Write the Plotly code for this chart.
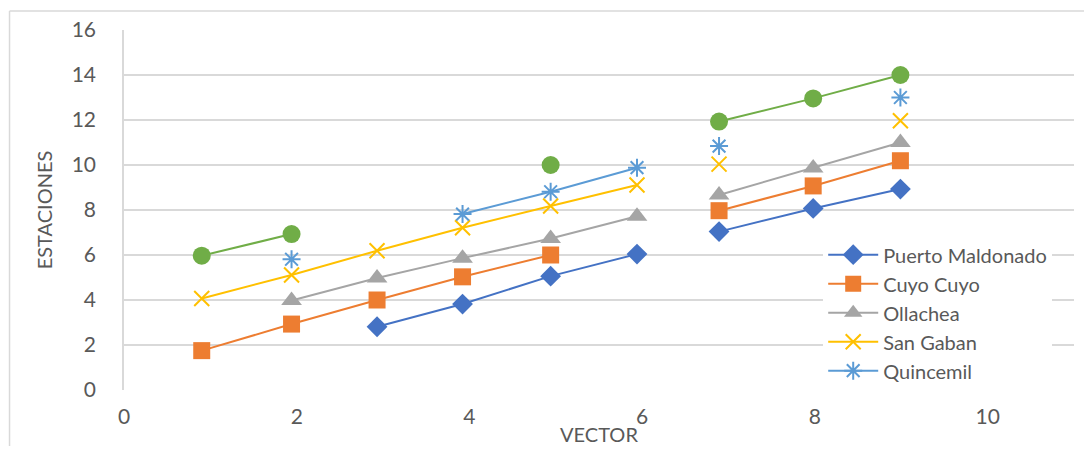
import plotly.graph_objects as go

# Shared x positions (None marks the blank row that breaks every line)
x_vals = [0.90, 1.94, 2.93, 3.92, 4.94, 5.94, None, 6.89, 7.98, 8.99]

puerto_maldonado = [None, None, 2.81, 3.82, 5.06, 6.04, None, 7.04, 8.07, 8.93]
cuyo_cuyo        = [1.75, 2.93, 4.00, 5.03, 6.00, None, None, 7.97, 9.07, 10.19]
ollachea         = [None, 3.98, 4.98, 5.86, 6.73, 7.72, None, 8.67, 9.87, 11.00]
san_gaban        = [4.07, 5.11, 6.19, 7.21, 8.18, 9.11, None, 10.04, None, 11.97]
quincemil        = [None, 5.81, None, 7.82, 8.81, 9.88, None, 10.84, None, 13.00]
serie6           = [5.97, 6.93, None, None, 10.00, None, None, 11.93, 12.96, 14.00]

x_ticks = [0, 2, 4, 6, 8, 10]
y_ticks = [0, 2, 4, 6, 8, 10, 12, 14, 16]

FONT = "Lato"
TXT = "#595959"
GRID = "#D9D9D9"

series = [
    ("Puerto Maldonado", puerto_maldonado, "#4472C4", "diamond", 16, True),
    ("Cuyo Cuyo", cuyo_cuyo, "#ED7D31", "square", 17, True),
    ("Ollachea", ollachea, "#A5A5A5", "triangle-up", 18, True),
    ("San Gaban", san_gaban, "#FFC000", "x-thin-open", 15, True),
    ("Quincemil", quincemil, "#5B9BD5", "asterisk-open", 15, True),
    ("Serie 6", serie6, "#70AD47", "circle", 18, False),
]

fig = go.Figure()
for name, ys, color, sym, size, show in series:
    open_sym = sym.endswith("open")
    fig.add_trace(go.Scatter(
        x=x_vals, y=ys, name=name, mode="lines+markers",
        line=dict(color=color, width=2),
        marker=dict(symbol=sym, size=size, color=color,
                    line=dict(color=color, width=2 if open_sym else 0)),
        connectgaps=False, showlegend=show,
    ))

# Chart-area frame: only its top and left edges fall inside the picture
fig.add_shape(type="line", xref="paper", yref="paper",
              x0=-0.1205, x1=1.2, y0=1.053, y1=1.053,
              line=dict(color=GRID, width=1.5), layer="below")
fig.add_shape(type="line", xref="paper", yref="paper",
              x0=-0.1205, x1=-0.1205, y0=-0.3, y1=1.053,
              line=dict(color=GRID, width=1.5), layer="below")

fig.update_layout(
    width=1076, height=438,
    margin=dict(l=116, r=10, t=22, b=56, autoexpand=False),
    paper_bgcolor="white", plot_bgcolor="white",
    font=dict(family=FONT, color=TXT, size=21),
    legend=dict(x=0.736, y=0.43, xanchor="left", yanchor="top",
                bgcolor="white", font=dict(family=FONT, size=20, color=TXT),
                tracegroupgap=0, itemwidth=50),
    xaxis=dict(range=[0, 11], tickvals=x_ticks, showgrid=False, zeroline=False,
               showline=False, ticks="", ticklabelstandoff=12, automargin=False,
               tickfont=dict(size=21, color=TXT),
               title=dict(text="VECTOR", font=dict(size=20, color=TXT), standoff=6)),
    yaxis=dict(range=[0, 16], tickvals=y_ticks, showgrid=True, gridcolor=GRID,
               gridwidth=1.5, zeroline=False, showline=True, linecolor=GRID,
               linewidth=1.5, ticks="", ticklabelstandoff=22, automargin=False,
               tickfont=dict(size=21, color=TXT),
               title=dict(text="ESTACIONES", font=dict(size=20, color=TXT), standoff=14)),
)

fig.write_html("out.html")
